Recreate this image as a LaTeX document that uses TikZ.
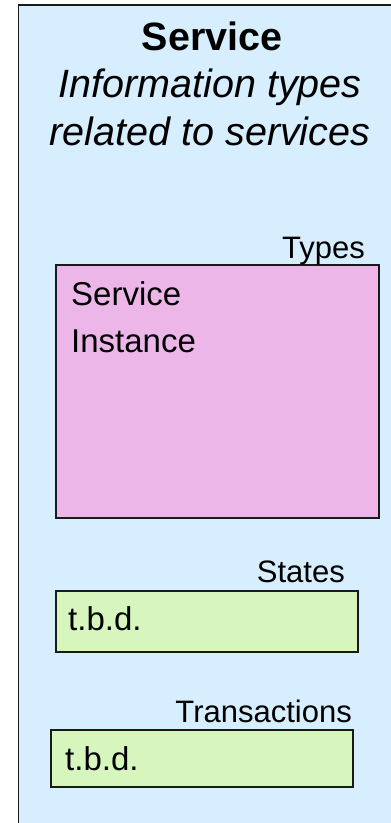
\documentclass[tikz,border=0pt]{standalone}
\usepackage{fontspec}
\setmainfont{Liberation Sans}
\definecolor{paneblue}{RGB}{214,238,253}
\definecolor{typepink}{RGB}{236,182,233}
\definecolor{boxgreen}{RGB}{214,246,190}
\definecolor{edgegray}{RGB}{25,25,25}
\tikzset{
  pane/.style={draw=edgegray, line width=1.8pt, fill=paneblue},
  itembox/.style={draw=edgegray, line width=1.7pt},
  titletext/.style={inner sep=0pt, font=\fontsize{39.5}{46}\selectfont\bfseries},
  subtext/.style={inner sep=0pt, font=\fontsize{39.5}{46}\selectfont\itshape},
  labeltext/.style={inner sep=0pt, font=\fontsize{31}{36}\selectfont},
  boxtext/.style={inner sep=0pt, font=\fontsize{33}{38}\selectfont},
}
\begin{document}
\begin{tikzpicture}[x=1pt, y=-1pt]
  \useasboundingbox (0,0) rectangle (391,823);
  \fill[white] (0,0) rectangle (391,823);
  \clip (0,0) rectangle (391,823);
  % outer pane, running past the right and bottom edges
  \draw[pane] (18.5,5) rectangle (402,834);
  % heading
  \node[titletext, anchor=base] (title) at (212,50) {Service};
  \node[subtext, anchor=base] (sub1) at (210,97) {Information types};
  \node[subtext, anchor=base] (sub2) at (210,145) {related to services};
  % Types
  \draw[itembox, fill=typepink] (56,265) rectangle (379,518);
  \node[labeltext, anchor=base east] (types) at (365,258) {Types};
  \node[boxtext, anchor=base west] (svc) at (71,305) {Service};
  \node[boxtext, anchor=base west] (inst) at (71,352) {Instance};
  % States
  \draw[itembox, fill=boxgreen] (56,591) rectangle (358,652);
  \node[labeltext, anchor=base east] (states) at (345,582) {States};
  \node[boxtext, anchor=base west] (tbdA) at (68,630) {t.b.d.};
  % Transactions
  \draw[itembox, fill=boxgreen] (51,730) rectangle (353,787);
  \node[labeltext, anchor=base east] (trans) at (352,722) {Transactions};
  \node[boxtext, anchor=base west] (tbdB) at (65,770) {t.b.d.};
\end{tikzpicture}
\end{document}
